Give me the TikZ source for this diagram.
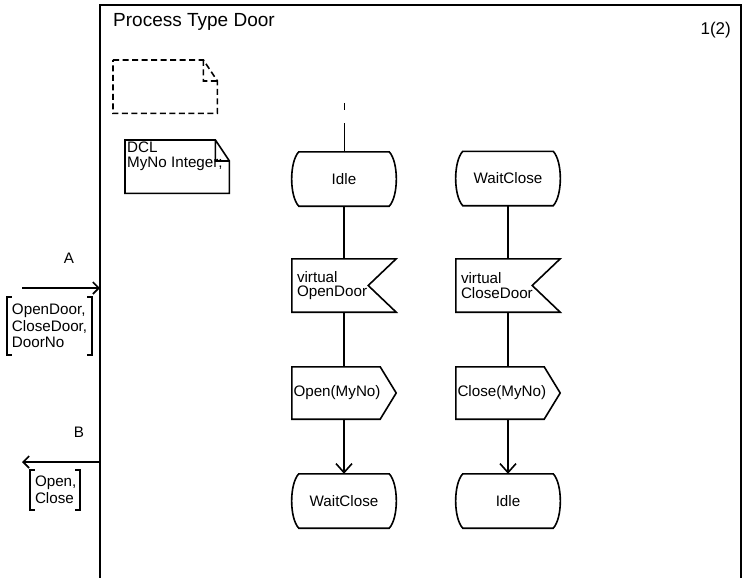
\documentclass[tikz,border=0pt]{standalone}
\usepackage{fontspec}
\setmainfont{Liberation Sans}
\usetikzlibrary{calc,arrows.meta}
\newcommand\fBody{\fontsize{15.2pt}{14.5pt}\selectfont}
\newcommand\fTitle{\fontsize{19pt}{22pt}\selectfont}
\newcommand\fPage{\fontsize{17pt}{20pt}\selectfont}
\newcommand\fBrk{\fontsize{15.2pt}{16.5pt}\selectfont}
\begin{document}
\begin{tikzpicture}[x=1pt,y=-1pt,
  shapeline/.style={line width=1.6pt, line join=miter},
  conn/.style={line width=1.6pt},
  stubline/.style={line width=0.9pt},
  bigtip/.style={-{Straight Barb[length=9pt,width=16pt]}},
  smalltip/.style={-{Straight Barb[length=6pt,width=12pt]}},
  statebox/.style={minimum width=104pt, minimum height=54pt, inner sep=0pt, font=\fBody,
    append after command={\pgfextra{\draw[shapeline]
      ($(\tikzlastnode.north west)+(7,0)$) -- ($(\tikzlastnode.north east)+(-7,0)$)
      .. controls +(9.5,10) and +(9.5,-10) .. ($(\tikzlastnode.south east)+(-7,0)$)
      -- ($(\tikzlastnode.south west)+(7,0)$)
      .. controls +(-9.5,-10) and +(-9.5,10) .. ($(\tikzlastnode.north west)+(7,0)$) -- cycle;}}},
  inbox/.style={text width=94pt, inner xsep=5pt, inner ysep=0pt, minimum height=53pt,
    align=left, font=\fBody,
    append after command={\pgfextra{\draw[shapeline]
      (\tikzlastnode.north west) -- (\tikzlastnode.north east)
      -- ($(\tikzlastnode.east)+(-28,0)$) -- (\tikzlastnode.south east)
      -- (\tikzlastnode.south west) -- cycle;}}},
  outbox/.style={text width=101pt, inner xsep=1.5pt, inner ysep=0pt, minimum height=52pt,
    align=left, font=\fBody,
    append after command={\pgfextra{\draw[shapeline]
      (\tikzlastnode.north west) -- ($(\tikzlastnode.north east)+(-16,0)$)
      -- (\tikzlastnode.east) -- ($(\tikzlastnode.south east)+(-16,0)$)
      -- (\tikzlastnode.south west) -- cycle;}}},
  notebox/.style={minimum width=104pt, minimum height=53pt, inner sep=2pt,
    anchor=north west, font=\fBody,
    append after command={\pgfextra{\draw[shapeline,#1]
      (\tikzlastnode.north west) -- ($(\tikzlastnode.north east)+(-14,0)$)
      -- ($(\tikzlastnode.north east)+(0,21)$) -- (\tikzlastnode.south east)
      -- (\tikzlastnode.south west) -- cycle
      ($(\tikzlastnode.north east)+(-14,0)$) -- ($(\tikzlastnode.north east)+(-14,21)$)
      -- ($(\tikzlastnode.north east)+(0,21)$);}}},
  notebox/.default={},
  brk/.style={align=left, font=\fBrk, inner ysep=0pt,
    append after command={\pgfextra{\draw[shapeline]
      ($(\tikzlastnode.north west)+(5,0)$) -- (\tikzlastnode.north west)
      -- (\tikzlastnode.south west) -- ($(\tikzlastnode.south west)+(5,0)$)
      ($(\tikzlastnode.north east)+(-5,0)$) -- (\tikzlastnode.north east)
      -- (\tikzlastnode.south east) -- ($(\tikzlastnode.south east)+(-5,0)$);}}},
  lbl/.style={font=\fBody, inner sep=0pt}
]
\useasboundingbox (0,0) rectangle (745,578);
% frame
\draw[line width=1.8pt] (100,578) -- (100,5) -- (741,5) -- (741,578);
\node[anchor=base west, font=\fTitle, inner sep=0pt] (title) at (113,27) {Process Type Door};
\node[anchor=base east, font=\fPage, inner sep=0pt] (page) at (731,34.5) {1(2)};

% text symbols
\node[notebox={dash pattern=on 6pt off 3.5pt}] (dnote) at (113,60) {};
\node[notebox] (dcl) at (125,140) {\parbox[t][49pt][t]{100pt}{\raggedright DCL\\MyNo Integer;}};

% left column
\node[statebox] (idleA) at (344,179) {Idle};
\node[inbox] (openIn) at (344,285.5) {virtual\\OpenDoor};
\node[outbox] (openOut) at (344,393) {Open(MyNo)};
\node[statebox] (waitB) at (344,501) {WaitClose};

% right column
\node[statebox] (waitA) at (508,178.5) {WaitClose};
\node[inbox] (closeIn) at (508,285.5) {virtual\\CloseDoor};
\node[outbox] (closeOut) at (508,393) {Close(MyNo)};
\node[statebox] (idleB) at (508,501) {Idle};

\coordinate (stub) at (344,103);
\draw[stubline, dash pattern=on 7pt off 13pt on 60pt] (stub) -- (idleA);
\draw[conn] (idleA) -- (openIn);
\draw[conn] (openIn) -- (openOut);
\draw[conn,bigtip] (openOut) -- (waitB);
\draw[conn] (waitA) -- (closeIn);
\draw[conn] (closeIn) -- (closeOut);
\draw[conn,bigtip] (closeOut) -- (idleB);

% channels
\coordinate (aStart) at (22,288);
\coordinate (aEnd) at (100,288);
\draw[conn,smalltip] (aStart) -- (aEnd);
\node[lbl] (labA) at (69,258) {A};
\node[brk, text width=75pt, inner xsep=5pt, minimum height=58pt] (sigA) at (49.5,326) {OpenDoor,\\CloseDoor,\\DoorNo};

\coordinate (bStart) at (100,462);
\coordinate (bEnd) at (22,462);
\draw[conn,smalltip] (bStart) -- (bEnd);
\node[lbl] (labB) at (79,432) {B};
\node[brk, text width=40pt, inner xsep=5pt, minimum height=40pt] (sigB) at (55,490) {Open,\\Close};
\end{tikzpicture}
\end{document}
